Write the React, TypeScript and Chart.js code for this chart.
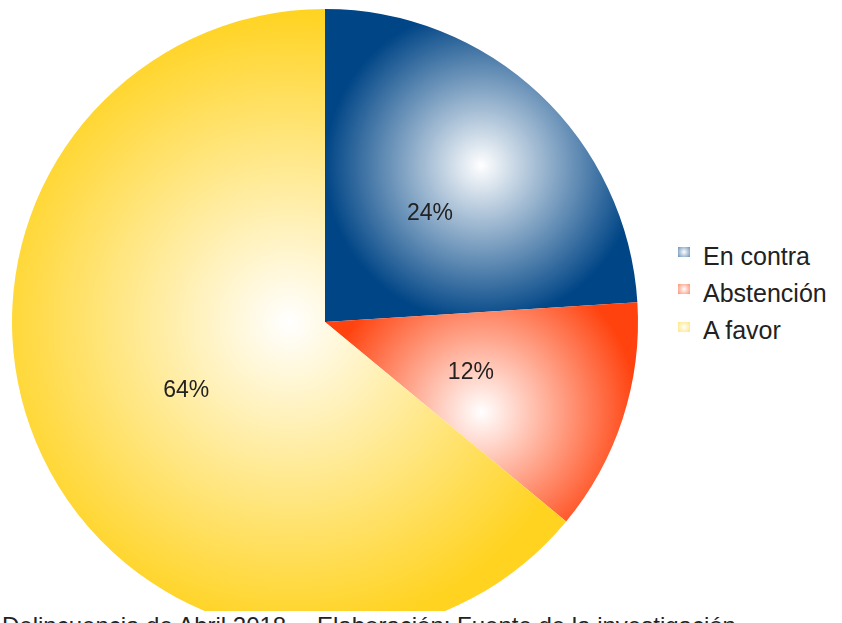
import { useEffect, useRef } from "react";
import { Chart, registerables } from "chart.js";

Chart.register(...registerables);

const labels = ["En contra", "Abstención", "A favor"];
const values = [24, 12, 64];
const colors = ["#004586", "#ff420e", "#ffd320"];
const footerLeft = "Delincuencia de Abril 2018";
const footerRight = "Elaboración: Fuente de la investigación";

const FONT = '"Liberation Sans", Arial, sans-serif';
const TEXT = "#222222";

// radial gradient centred on the bounding box of each slice (LibreOffice style)
function sliceGradient(chart: Chart, index: number) {
  const area = chart.chartArea;
  if (!area) return colors[index];
  const cx = (area.left + area.right) / 2;
  const cy = (area.top + area.bottom) / 2;
  const r = Math.min(area.right - area.left, area.bottom - area.top) / 2;
  const total = values.reduce((a, b) => a + b, 0);
  const before = values.slice(0, index).reduce((a, b) => a + b, 0);
  const a0 = -Math.PI / 2 + (before / total) * Math.PI * 2;
  const a1 = a0 + (values[index] / total) * Math.PI * 2;
  const pts: number[][] = [
    [cx, cy],
    [cx + r * Math.cos(a0), cy + r * Math.sin(a0)],
    [cx + r * Math.cos(a1), cy + r * Math.sin(a1)],
  ];
  for (let k = Math.ceil(a0 / (Math.PI / 2) - 1e-9); (k * Math.PI) / 2 < a1; k++) {
    const a = (k * Math.PI) / 2;
    pts.push([cx + r * Math.cos(a), cy + r * Math.sin(a)]);
  }
  const xs = pts.map((p) => p[0]);
  const ys = pts.map((p) => p[1]);
  const minX = Math.min(...xs);
  const maxX = Math.max(...xs);
  const minY = Math.min(...ys);
  const maxY = Math.max(...ys);
  const gx = (minX + maxX) / 2;
  const gy = (minY + maxY) / 2;
  const gr = Math.max(maxX - minX, maxY - minY) / 2;
  const g = chart.ctx.createRadialGradient(gx, gy, 0, gx, gy, gr);
  g.addColorStop(0, "#ffffff");
  g.addColorStop(1, colors[index]);
  return g;
}

const percentLabels = {
  id: "percentLabels",
  afterDatasetsDraw(chart: Chart) {
    const ctx = chart.ctx;
    const meta = chart.getDatasetMeta(0);
    const total = values.reduce((a, b) => a + b, 0);
    ctx.save();
    ctx.font = `23px ${FONT}`;
    ctx.fillStyle = TEXT;
    ctx.textAlign = "center";
    ctx.textBaseline = "middle";
    meta.data.forEach((el: any, i: number) => {
      const { x, y, startAngle, endAngle, outerRadius } = el.getProps(
        ["x", "y", "startAngle", "endAngle", "outerRadius"],
        true
      );
      const mid = (startAngle + endAngle) / 2;
      const d = outerRadius * 0.49;
      ctx.fillText(
        `${Math.round((values[i] / total) * 100)}%`,
        x + Math.cos(mid) * d,
        y + Math.sin(mid) * d + 3
      );
    });
    ctx.restore();
  },
};

function PieChart() {
  const chartRef = useRef<HTMLCanvasElement>(null);
  const chartInstance = useRef<Chart | null>(null);

  useEffect(() => {
    if (!chartRef.current) return;
    if (chartInstance.current) chartInstance.current.destroy();

    chartInstance.current = new Chart(chartRef.current, {
      type: "pie",
      data: {
        labels,
        datasets: [
          {
            data: values,
            backgroundColor: (c: any) => sliceGradient(c.chart, c.dataIndex),
            borderWidth: 0,
          },
        ],
      },
      options: {
        responsive: true,
        maintainAspectRatio: false,
        animation: false,
        events: [],
        layout: { padding: { left: 12, right: 12, top: 9, bottom: 10 } },
        plugins: {
          legend: { display: false },
          tooltip: { enabled: false },
        },
      },
      plugins: [percentLabels],
    });

    return () => {
      if (chartInstance.current) {
        chartInstance.current.destroy();
        chartInstance.current = null;
      }
    };
  }, []);

  return <canvas ref={chartRef} />;
}

export default function App() {
  return (
    <div
      style={{
        position: "absolute",
        left: 0,
        top: 0,
        width: 842,
        height: 623,
        overflow: "hidden",
        background: "#ffffff",
        fontFamily: FONT,
        color: TEXT,
      }}
    >
      {/* the pie is cut off by the white band holding the footer */}
      <div style={{ position: "absolute", left: 0, top: 0, width: 650, height: 611, overflow: "hidden" }}>
        <div style={{ position: "relative", width: 650, height: 645 }}>
          <PieChart />
        </div>
      </div>

      {labels.map((label, i) => (
        <div key={label}>
          <div
            style={{
              position: "absolute",
              left: 678,
              top: 247 + i * 37.3,
              width: 12,
              height: 10,
              background: `radial-gradient(circle, #ffffff 0%, ${colors[i]} 170%)`,
            }}
          />
          <div
            style={{
              position: "absolute",
              left: 703,
              top: 243.5 + i * 37.3,
              fontSize: 25,
              lineHeight: "25px",
              whiteSpace: "nowrap",
            }}
          >
            {label}
          </div>
        </div>
      ))}

      <div style={{ position: "absolute", left: 2, top: 614, fontSize: 24, lineHeight: "24px", whiteSpace: "nowrap" }}>
        {footerLeft}
      </div>
      <div style={{ position: "absolute", left: 317, top: 614, fontSize: 24, lineHeight: "24px", whiteSpace: "nowrap" }}>
        {footerRight}
      </div>
    </div>
  );
}
